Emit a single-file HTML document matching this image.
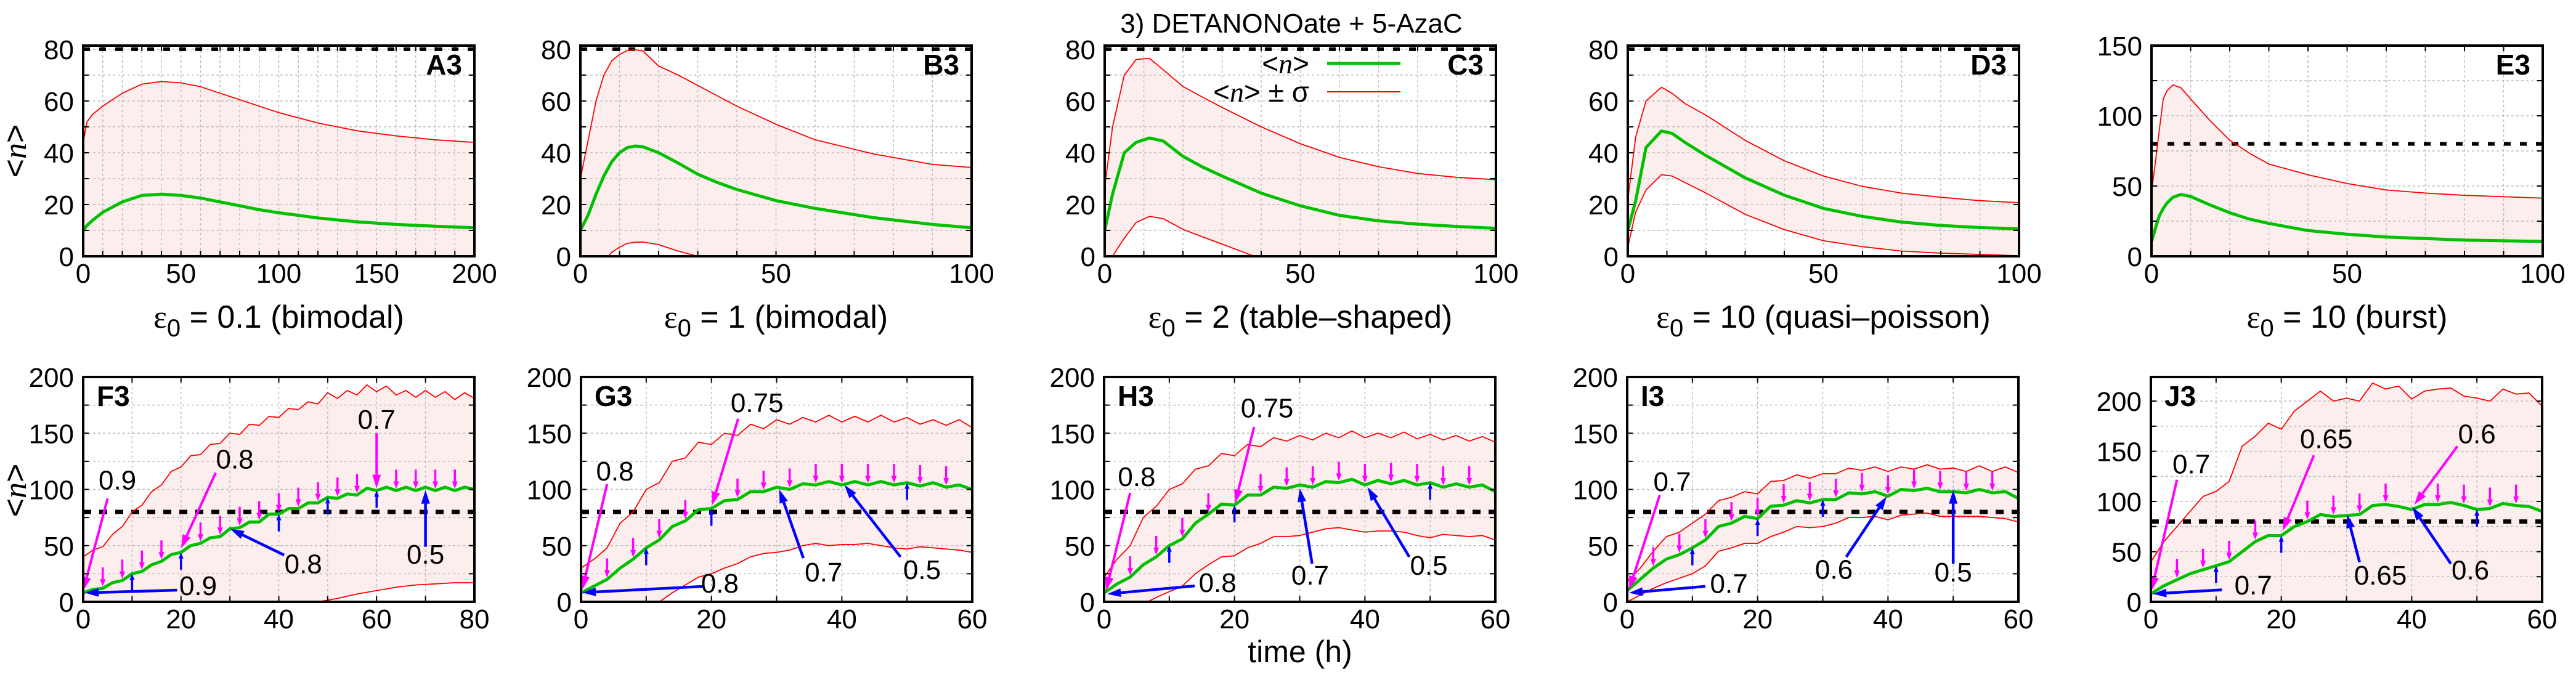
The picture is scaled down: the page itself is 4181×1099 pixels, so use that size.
<!DOCTYPE html>
<html><head><meta charset="utf-8"><style>
html,body{margin:0;padding:0;background:#fff;}
svg{display:block;font-family:"Liberation Sans",sans-serif;}
</style></head><body>
<svg id="fig" width="4181" height="1099" viewBox="0 0 4181 1099" xmlns="http://www.w3.org/2000/svg">
<text x="2096" y="53" font-size="44" text-anchor="middle">3) DETANONOate + 5-AzaC</text>
<text transform="translate(42,245) rotate(-90)" font-size="52" text-anchor="middle">&lt;<tspan font-family="Liberation Serif" font-style="italic">n</tspan>&gt;</text>
<text transform="translate(42,796) rotate(-90)" font-size="52" text-anchor="middle">&lt;<tspan font-family="Liberation Serif" font-style="italic">n</tspan>&gt;</text>
<text x="2110" y="1075" font-size="50" text-anchor="middle">time (h)</text>
</svg>
<script>
// ---------- data ----------
const A3_t=[0,2,5,10,20,30,40,50,60,70,80,90,100,120,140,160,180,200];
const A3_mean=[10,12,14,17,21,23.5,24,23.5,22.5,21,19.5,18,16.8,14.8,13.3,12.3,11.6,11];
const A3_up=[44,52,55,58,63,66.5,67.5,67,65.5,63,60.5,58,55.5,51.5,48.5,46.5,45,44];
const A3_lo=[-20,-20,-20,-20,-20,-20,-20,-20,-20,-20,-20,-20,-20,-20,-20,-20,-20,-20];

const B3_t=[0,2,4,6,8,10,12,14,16,20,25,30,35,40,50,60,75,90,100];
const B3_mean=[10,16,24,31,36.5,40,42,42.6,42.3,40,36,31.7,28.5,25.8,21.5,18.5,14.9,12.3,11];
const B3_up=[30,45,60,70,75.5,78,79.5,79.8,79.3,73.5,70,66,62,58,51,45,39.5,35.5,34.3];
const B3_lo=[-25,-15,-8,-2,1.5,3.5,5,5.4,5.5,4.5,2,0,-2,-5,-10,-14,-18,-22,-24];

const C3_t=[0,2,5,8,11.4,15,20,25,30,40,50,60,70,80,90,100];
const C3_mean=[10,24,40,44,45.7,44.5,38.6,34.5,31,24.4,19.5,15.8,13.7,12.4,11.5,10.8];
const C3_up=[26.7,50,70,76,76.5,72,65.6,61.5,57.5,50,43.5,38.2,34.6,32,30.5,29.6];
const C3_lo=[-8,0,7,13,15.4,14.5,10.4,7.5,4.7,-1,-5,-8,-10,-12,-13,-14];

const D3_t=[0,2,4.65,8.6,11.3,14.6,20,30,40,50,60,70,80,90,100];
const D3_mean=[10,21.3,42,48.4,47.5,44,38.9,30.3,23.6,18.5,15.4,13.2,11.9,11.1,10.6];
const D3_up=[21.7,46,60,65.3,63,59,54.5,44.8,36.9,31,27,24.4,22.8,21.5,20.7];
const D3_lo=[3.5,17,25.6,31.5,31,28.5,24.4,16.2,10.3,6,3.7,2,1.2,0.7,0.2];

const E3_t=[0,1,2,3,4,5.5,7.5,10,15,20,25,30,40,50,60,70,80,100];
const E3_mean=[10.3,20,28.8,34,38,42,44,42.6,36.5,31,26.5,23.4,18.3,15.7,13.7,12.6,11.5,10.6];
const E3_up=[45.7,67,90,112,118,122,120,112,96.5,82.6,73.4,65.7,58,51.8,47.2,45,43.4,41.4];
const E3_lo=[-25,-25,-25,-25,-25,-25,-25,-25,-25,-25,-25,-25,-25,-25,-25,-25,-25,-25];

const F3_t=[0,2,4,6,8,10,12,14,16,18,20,22,24,26,28,30,32,34,36,38,40,42,44,46,48,50,52,54,56,58,60,62,64,66,68,70,72,74,76,78,80];
const F3_mean=[8,11,12,17,19,25,27,33,36,42,44,50,52,57,58,65,66,71,71,78,78,83,83,88,88,93,92,96,95,101,99,102,99,102,99,102,99,102,99,102,100];
const F3_up=[40,46,49,60,67,80,86,98,104,116,120,130,131,140,141,150,149,158,157,165,164,172,171,178,176,186,181,188,184,193,187,192,184,188,182,188,182,187,180,186,181];
const F3_lt=[0,4,8,12,16,20,24,28,32,36,40,44,48,52,56,60,64,68,72,76,80];
const F3_lo=[-40,-35,-30,-27,-24,-21,-18,-15,-12,-9,-6,-3,0,3,7,10,13,15,16,17,17];

const T60=[0,2,4,6,8,10,12,14,16,18,20,22,24,26,28,30,32,34,36,38,40,42,44,46,48,50,52,54,56,58,60];
const G3_mean=[8,14,20,30,38,48,55,67,72,82,83,90,91,98,98,102,100,105,104,107,104,107,104,107,104,106,103,106,102,104,100];
const G3_up=[30,38,48,70,80,100,106,125,128,142,140,150,148,158,154,162,158,164,160,166,160,165,160,166,160,164,158,162,157,162,155];
const G3_lo=[-40,-33,-26,-19,-12,-5,0,8,15,22,25,30,34,40,43,44,46,50,52,50,51,51,52,50,48,47,49,48,47,46,44];

const H3_mean=[8,16,22,33,40,50,56,70,78,87,86,95,95,102,101,104,102,107,106,109,104,108,105,108,104,106,102,105,102,104,98];
const H3_up=[22,38,50,75,85,100,105,118,121,132,130,140,138,146,143,148,144,150,146,152,146,150,146,151,145,149,144,148,143,147,142];
const H3_lo=[-30,-18,-8,-2,4,9,14,25,33,40,41,48,52,58,58,59,62,65,66,64,62,63,63,62,59,57,60,59,58,59,55];

const I3_mean=[10,20,30,38,42,48,55,67,70,76,74,85,86,90,88,91,91,97,96,98,94,100,99,101,98,98,97,100,97,98,92];
const I3_up=[18,30,45,58,62,70,78,90,93,98,96,107,108,113,110,114,114,119,117,120,116,120,118,122,118,119,116,121,116,120,115];
const I3_lo=[0,6,12,17,21,25,32,45,48,52,52,58,62,67,66,67,70,75,75,76,73,77,78,79,76,76,76,76,75,74,71];

const J3_mean=[8,16,22,28,32,36,40,50,60,66,66,75,80,87,85,86,87,96,97,95,92,97,97,99,96,92,93,98,96,95,90];
const J3_up=[40,60,75,90,105,110,120,155,165,178,172,190,200,210,200,203,200,218,212,215,202,210,212,213,205,203,200,212,207,208,195];
const J3_lo=[-40,-40,-40,-40,-40,-40,-40,-40,-40,-40,-40,-40,-40,-40,-40,-40,-40,-40,-40,-40,-40,-40,-40,-40,-40,-40,-40,-40,-40,-40,-40];

// dose markers (times)
const F3_pink=[4,8,12,16,24,28,32,36,40,44,48,52,56,64,68,72,76];
const F3_blue=[10,20,40,50,60];
const G3_pink=[4,8,12,16,24,28,32,36,40,44,48,52,56];
const G3_blue=[10,20,50];
const H3_pink=[4,8,12,16,24,28,32,36,40,44,48,52,56];
const H3_blue=[10,20,50];
const I3_pink=[4,8,12,16,20,24,28,32,36,40,44,48,52,56];
const I3_blue=[10,20,30];
const J3_pink=[4,8,12,16,24,28,32,36,44,48,52,56];
const J3_blue=[10,20,50];

// annotated arrows: [x1,y1,x2,y2]; labels: [x,y,text]
const F3_arrP=[[5,92,0,10],[27.1,114.8,20,47.7],[60,150,60,101]];
const F3_labP=[[7,100,"0.9"],[31,118.6,"0.8"],[60,154,"0.7"]];
const F3_arrB=[[19.2,10.4,0.4,8],[41.1,41.6,30.1,64.8],[70,49,70,99.4]];
const F3_labB=[[23.5,6,"0.9"],[45,25.4,"0.8"],[70,34,"0.5"]];
const G3_arrP=[[4,104.8,0.2,11],[24.1,162.9,20.1,86]];
const G3_labP=[[5.2,108,"0.8"],[27,168.8,"0.75"]];
const G3_arrB=[[18.9,13.8,0.2,8.2],[34.1,38.9,30.4,100],[49,40,40.4,104]];
const G3_labB=[[21.3,8.2,"0.8"],[37.2,18.2,"0.7"],[52.3,20.3,"0.5"]];
const H3_arrP=[[4,97,0.3,10],[23,155.6,20.1,87.8]];
const H3_labP=[[5,103,"0.8"],[25,164,"0.75"]];
const H3_arrB=[[13.9,14.2,0.5,7],[31.9,34,30,101],[46.8,40,40.4,102]];
const H3_labB=[[17.4,8.8,"0.8"],[31.6,15.4,"0.7"],[49.8,24,"0.5"]];
const I3_arrP=[[5,95,0.3,11]];
const I3_labP=[[6.9,98.6,"0.7"]];
const I3_arrB=[[12,13.8,0.3,8],[33.6,40,39.8,93.7],[50,34,50,99.4]];
const I3_labB=[[15.6,8,"0.7"],[31.7,20.5,"0.6"],[50,18,"0.5"]];
const J3_arrP=[[4,121.6,0.1,11.2],[25,146,20.2,70.7],[47,155,40.4,96.8]];
const J3_labP=[[6.2,128,"0.7"],[26.9,153,"0.65"],[50,158,"0.6"]];
const J3_arrB=[[10.9,12,0.3,8],[32,39.5,30.1,87],[46,38,40.1,94.5]];
const J3_labB=[[15.7,7.4,"0.7"],[35.2,17.2,"0.65"],[49,22.5,"0.6"]];

const THRESHOLD=80;

// ---------- layout ----------
const NS="http://www.w3.org/2000/svg";
const svg=document.getElementById('fig');
function mk(tag,attrs,parent){const e=document.createElementNS(NS,tag);for(const k in attrs)e.setAttribute(k,attrs[k]);(parent||svg).appendChild(e);return e;}

const TOP={y:74,h:342}, BOT={y:612,h:365};
const panels=[
 {id:'A3',x:135,row:TOP,xmax:200,ymax:81.4,xg:10,xl:50,yg:10,yl:20,t:A3_t,m:A3_mean,u:A3_up,l:A3_lo,lt:A3_t,lab:['0.1 (bimodal)']},
 {id:'B3',x:942,row:TOP,xmax:100,ymax:81.4,xg:10,xl:50,yg:10,yl:20,t:B3_t,m:B3_mean,u:B3_up,l:B3_lo,lt:B3_t,lab:['1 (bimodal)']},
 {id:'C3',x:1793,row:TOP,xmax:100,ymax:81.4,xg:10,xl:50,yg:10,yl:20,t:C3_t,m:C3_mean,u:C3_up,l:C3_lo,lt:C3_t,lab:['2 (table\u2013shaped)'],legend:true},
 {id:'D3',x:2642,row:TOP,xmax:100,ymax:81.4,xg:10,xl:50,yg:10,yl:20,t:D3_t,m:D3_mean,u:D3_up,l:D3_lo,lt:D3_t,lab:['10 (quasi\u2013poisson)']},
 {id:'E3',x:3492,row:TOP,xmax:100,ymax:150,xg:10,xl:50,yg:25,yl:50,t:E3_t,m:E3_mean,u:E3_up,l:E3_lo,lt:E3_t,lab:['10 (burst)']},
 {id:'F3',x:135,row:BOT,xmax:80,ymax:200,xg:10,xl:20,yg:25,yl:50,t:F3_t,m:F3_mean,u:F3_up,l:F3_lo,lt:F3_lt,pk:F3_pink,bl:F3_blue,aP:F3_arrP,lP:F3_labP,aB:F3_arrB,lB:F3_labB},
 {id:'G3',x:943,row:BOT,xmax:60,ymax:200,xg:10,xl:20,yg:25,yl:50,t:T60,m:G3_mean,u:G3_up,l:G3_lo,lt:T60,pk:G3_pink,bl:G3_blue,aP:G3_arrP,lP:G3_labP,aB:G3_arrB,lB:G3_labB},
 {id:'H3',x:1792,row:BOT,xmax:60,ymax:200,xg:10,xl:20,yg:25,yl:50,t:T60,m:H3_mean,u:H3_up,l:H3_lo,lt:T60,pk:H3_pink,bl:H3_blue,aP:H3_arrP,lP:H3_labP,aB:H3_arrB,lB:H3_labB},
 {id:'I3',x:2641,row:BOT,xmax:60,ymax:200,xg:10,xl:20,yg:25,yl:50,t:T60,m:I3_mean,u:I3_up,l:I3_lo,lt:T60,pk:I3_pink,bl:I3_blue,aP:I3_arrP,lP:I3_labP,aB:I3_arrB,lB:I3_labB},
 {id:'J3',x:3491,row:BOT,xmax:60,ymax:224,xg:10,xl:20,yg:25,yl:50,t:T60,m:J3_mean,u:J3_up,l:J3_lo,lt:T60,pk:J3_pink,bl:J3_blue,aP:J3_arrP,lP:J3_labP,aB:J3_arrB,lB:J3_labB}
];
const W=635;

function interp(ts,vs,t){for(let i=1;i<ts.length;i++){if(t<=ts[i]){const f=(t-ts[i-1])/(ts[i]-ts[i-1]);return vs[i-1]+f*(vs[i]-vs[i-1]);}}return vs[vs.length-1];}

function arrow(g,x1,y1,x2,y2,color,sw,hl,hw,name){
  const dx=x2-x1,dy=y2-y1,L=Math.hypot(dx,dy)||1,ux=dx/L,uy=dy/L;
  const bx=x2-ux*hl,by=y2-uy*hl;
  const ln=mk('line',{x1:x1,y1:y1,x2:bx,y2:by,stroke:color,'stroke-width':sw},g);
  
  
  const hd=mk('polygon',{points:`${x2},${y2} ${bx-uy*hw},${by+ux*hw} ${bx+uy*hw},${by-ux*hw}`,fill:color},g);
  
  
}

panels.forEach(p=>{
  const y0=p.row.y,h=p.row.h;
  const sx=v=>p.x+v/p.xmax*W, sy=v=>y0+h-v/p.ymax*h;
  const g=mk('g',{});
  
  
  const cid='clip'+p.id;
  const cp=mk('clipPath',{id:cid},g);mk('rect',{x:p.x,y:y0,width:W,height:h},cp);
  const inner=mk('g',{'clip-path':`url(#${cid})`},g);
  let pts=p.t.map((t,i)=>sx(t)+','+sy(p.u[i]));
  for(let i=p.lt.length-1;i>=0;i--)pts.push(sx(p.lt[i])+','+sy(p.l[i]));
  const band=mk('polygon',{points:pts.join(' '),fill:'#fdeeee'},inner);
  
  
  for(let v=p.xg;v<p.xmax-0.01;v+=p.xg){const gl=mk('line',{x1:sx(v),x2:sx(v),y1:y0,y2:y0+h,stroke:'#bdbdbd','stroke-width':1.5,'stroke-dasharray':'4,4'},inner);}
  for(let v=p.yg;v<p.ymax-0.01;v+=p.yg){const gl=mk('line',{x1:p.x,x2:p.x+W,y1:sy(v),y2:sy(v),stroke:'#bdbdbd','stroke-width':1.5,'stroke-dasharray':'4,4'},inner);}
  const th=mk('line',{x1:p.x,x2:p.x+W,y1:sy(THRESHOLD),y2:sy(THRESHOLD),stroke:'#000','stroke-width':p.row===TOP?6:7,'stroke-dasharray':p.row===TOP?'11,15':'13,13'},inner);
  
  
  const up=mk('polyline',{points:p.t.map((t,i)=>sx(t)+','+sy(p.u[i])).join(' '),fill:'none',stroke:'#ff0000','stroke-width':1.8,'stroke-linejoin':'round'},inner);
  
  
  const lo=mk('polyline',{points:p.lt.map((t,i)=>sx(t)+','+sy(p.l[i])).join(' '),fill:'none',stroke:'#ff0000','stroke-width':1.8,'stroke-linejoin':'round'},inner);
  
  
  if(p.pk){p.pk.forEach(t=>{const ym=sy(interp(p.t,p.m,t));arrow(inner,sx(t),ym-34,sx(t),ym-3,'#ff00ff',3.5,12,4.5,'dose-arrow-pink');});}
  const mn=mk('polyline',{points:p.t.map((t,i)=>sx(t)+','+sy(p.m[i])).join(' '),fill:'none',stroke:'#00c000','stroke-width':5,'stroke-linejoin':'round'},inner);
  
  
  if(p.bl){p.bl.forEach(t=>{const ym=sy(interp(p.t,p.m,t));arrow(inner,sx(t),ym+28,sx(t),ym,'#0000ff',3.5,10,4,'dose-arrow-blue');});}
  if(p.aP){
    p.aP.forEach(a=>arrow(inner,sx(a[0]),sy(a[1]),sx(a[2]),sy(a[3]),'#ff00ff',4,22,7,'annotation-arrow-pink'));
    p.aB.forEach(a=>arrow(inner,sx(a[0]),sy(a[1]),sx(a[2]),sy(a[3]),'#0000ff',4.5,22,7,'annotation-arrow-blue'));
    p.lP.concat(p.lB).forEach(l=>{const tx=mk('text',{x:sx(l[0]),y:sy(l[1]),'font-size':44,'text-anchor':'middle'},g);tx.textContent=l[2];
      
      });
  }
  const tk=[];
  for(let v=p.xg;v<p.xmax-0.01;v+=p.xg){tk.push(`M${sx(v)},${y0+h}v-9M${sx(v)},${y0}v9`);}
  for(let v=p.yg;v<p.ymax-0.01;v+=p.yg){tk.push(`M${p.x},${sy(v)}h9M${p.x+W},${sy(v)}h-9`);}
  const tp=mk('path',{d:tk.join(''),stroke:'#000','stroke-width':2,fill:'none'},g);
  
  
  const fr=mk('rect',{x:p.x,y:y0,width:W,height:h,fill:'none',stroke:'#000','stroke-width':4},g);
  
  
  for(let v=0;v<=p.xmax+0.01;v+=p.xl){const tx=mk('text',{x:sx(v),y:p.row===TOP?459:1020,'font-size':44,'text-anchor':'middle'},g);tx.textContent=v;
    
    }
  for(let v=0;v<=p.ymax+0.01;v+=p.yl){const tx=mk('text',{x:p.x-15,y:sy(v)+16,'font-size':44,'text-anchor':'end'},g);tx.textContent=v;
    
    }
  const pl=p.row===TOP?mk('text',{x:p.x+W-20,y:y0+47,'font-size':46,'font-weight':'bold','text-anchor':'end'},g):mk('text',{x:p.x+22,y:y0+47,'font-size':46,'font-weight':'bold'},g);
  pl.textContent=p.id;
  
  
  if(p.lab){
    const xl=mk('text',{x:p.x+W/2,y:532,'font-size':52,'text-anchor':'middle'},g);
    
    
    const e=mk('tspan',{'font-family':'Liberation Serif'},xl);e.textContent='\u03b5';
    const s=mk('tspan',{'font-size':40,dy:14},xl);s.textContent='0';
    const r=mk('tspan',{dy:-14},xl);r.textContent=' = '+p.lab[0];
  }
  if(p.legend){
    const lg=mk('g',{},g);
    
    
    const t1=mk('text',{x:2125,y:119,'font-size':46,'text-anchor':'end'},lg);
    t1.innerHTML='&lt;<tspan font-family="Liberation Serif" font-style="italic">n</tspan>&gt;';
    
    
    const l1=mk('line',{x1:2154,x2:2273,y1:103,y2:103,stroke:'#00c000','stroke-width':5},lg);
    
    
    const t2=mk('text',{x:2125,y:165,'font-size':46,'text-anchor':'end'},lg);
    t2.innerHTML='&lt;<tspan font-family="Liberation Serif" font-style="italic">n</tspan>&gt; \u00b1 \u03c3';
    
    
    const l2=mk('line',{x1:2154,x2:2273,y1:149,y2:149,stroke:'#ff0000','stroke-width':2},lg);
    
    
  }
});
</script>
</body></html>
